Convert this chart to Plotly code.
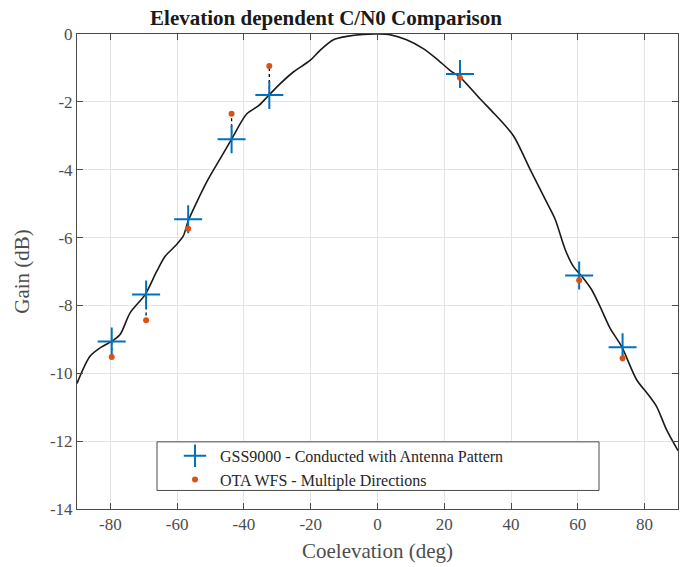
import plotly.graph_objects as go

# Antenna pattern curve (Coelevation deg, Gain dB)
curve_x = [-90, -86.1, -82.6, -79.6, -77.1, -74.1, -69.6, -66.1, -63.6, -60.6, -58.2, -56.7,
           -54.2, -50.7, -47.2, -43.7, -39.2, -35.7, -32.2, -29.2, -25.2, -20.2, -17.2, -13.2,
           -9.2, -4.3, 0, 3.7, 8.7, 13.7, 17.7, 21.7, 24.7, 30.7, 35.0, 40.7, 45.7, 50.2, 53.2,
           56.2, 58.6, 61.6, 64.1, 66.6, 69.6, 73.1, 77.6, 81.1, 83.6, 86.6, 90]
curve_y = [-10.3, -9.5, -9.22, -9.06, -8.86, -8.22, -7.68, -6.99, -6.55, -6.25, -5.96, -5.51,
           -4.97, -4.28, -3.69, -3.10, -2.36, -2.12, -1.77, -1.47, -1.12, -0.78, -0.48, -0.17,
           -0.07, -0.01, 0.0, -0.02, -0.17, -0.43, -0.73, -1.07, -1.27, -1.91, -2.35, -3.00,
           -3.99, -4.87, -5.46, -6.35, -6.84, -7.19, -7.53, -8.02, -8.66, -9.21, -10.19, -10.63,
           -10.98, -11.67, -12.28]

# Measurement directions
dir_x = [-79.6, -69.3, -56.7, -43.7, -32.4, 24.7, 60.4, 73.4]
gss_y = [-9.06, -7.68, -5.46, -3.10, -1.80, -1.18, -7.12, -9.23]
ota_y = [-9.52, -8.44, -5.74, -2.35, -0.94, -1.29, -7.26, -9.56]

x_ticks = [-80, -60, -40, -20, 0, 20, 40, 60, 80]
y_ticks = [-14, -12, -10, -8, -6, -4, -2, 0]

FONT = "Liberation Serif"
AX = "#4a4a4a"

fig = go.Figure()

fig.add_trace(go.Scatter(x=curve_x, y=curve_y, mode="lines",
                         line=dict(color="#1a1a1a", width=1.6, shape="spline", smoothing=0.8),
                         showlegend=False, hoverinfo="skip"))

# dotted connectors
lx, ly = [], []
for x, a, b in zip(dir_x, gss_y, ota_y):
    lx += [x, x, None]
    ly += [a, b, None]
fig.add_trace(go.Scatter(x=lx, y=ly, mode="lines", line=dict(color="black", width=1.3, dash="dot"),
                         showlegend=False, hoverinfo="skip"))

fig.add_trace(go.Scatter(x=dir_x, y=gss_y, mode="markers", name="GSS9000 - Conducted with Antenna Pattern",
                         marker=dict(symbol="cross-thin", size=20, line=dict(color="#0072BD", width=2), color="#0072BD")))
fig.add_trace(go.Scatter(x=dir_x, y=ota_y, mode="markers", name="OTA WFS - Multiple Directions",
                         marker=dict(symbol="circle", size=6, color="#D95319")))

axis_common = dict(showline=True, mirror="ticks", linecolor=AX, linewidth=1, ticks="inside", ticklen=6,
                   tickcolor=AX, showgrid=True, gridcolor="#e3e3e3", gridwidth=1, zeroline=False,
                   tickfont=dict(family=FONT, size=17, color="#4d4d4d"))

fig.update_xaxes(range=[-90, 90], tickvals=x_ticks, ticktext=[str(v) for v in x_ticks],
                 title=dict(text="Coelevation (deg)", font=dict(family=FONT, size=21, color="#4d4d4d"), standoff=9),
                 **axis_common)
fig.update_yaxes(range=[-14, 0], tickvals=y_ticks, ticktext=[str(v) for v in y_ticks],
                 title=dict(text="Gain (dB)", font=dict(family=FONT, size=21, color="#4d4d4d"), standoff=14),
                 **axis_common)

# legend box
fig.add_shape(type="rect", xref="paper", yref="paper", x0=(157 - 77) / 601, x1=(599 - 77) / 601,
              y0=(509 - 490.5) / 474, y1=(509 - 442) / 474, line=dict(color="#4a4a4a", width=1),
              fillcolor="white", layer="above")

fig.update_layout(
    width=684, height=567,
    margin=dict(l=77, r=6, t=34, b=58),
    paper_bgcolor="white", plot_bgcolor="white",
    title=dict(text="<b>Elevation dependent C/N0 Comparison</b>", x=(326 - 77) / 601, xref="paper",
               xanchor="center", y=1 - 18 / 567, yanchor="middle",
               font=dict(family=FONT, size=21, color="#1a1a1a")),
    legend=dict(x=(170 - 77) / 601, y=(509 - 439) / 474, xanchor="left", yanchor="top",
                bgcolor="rgba(0,0,0,0)", borderwidth=0, font=dict(family=FONT, size=16, color="#262626"),
                tracegroupgap=0, itemwidth=40),
    showlegend=True,
)

fig.write_html("out.html")
